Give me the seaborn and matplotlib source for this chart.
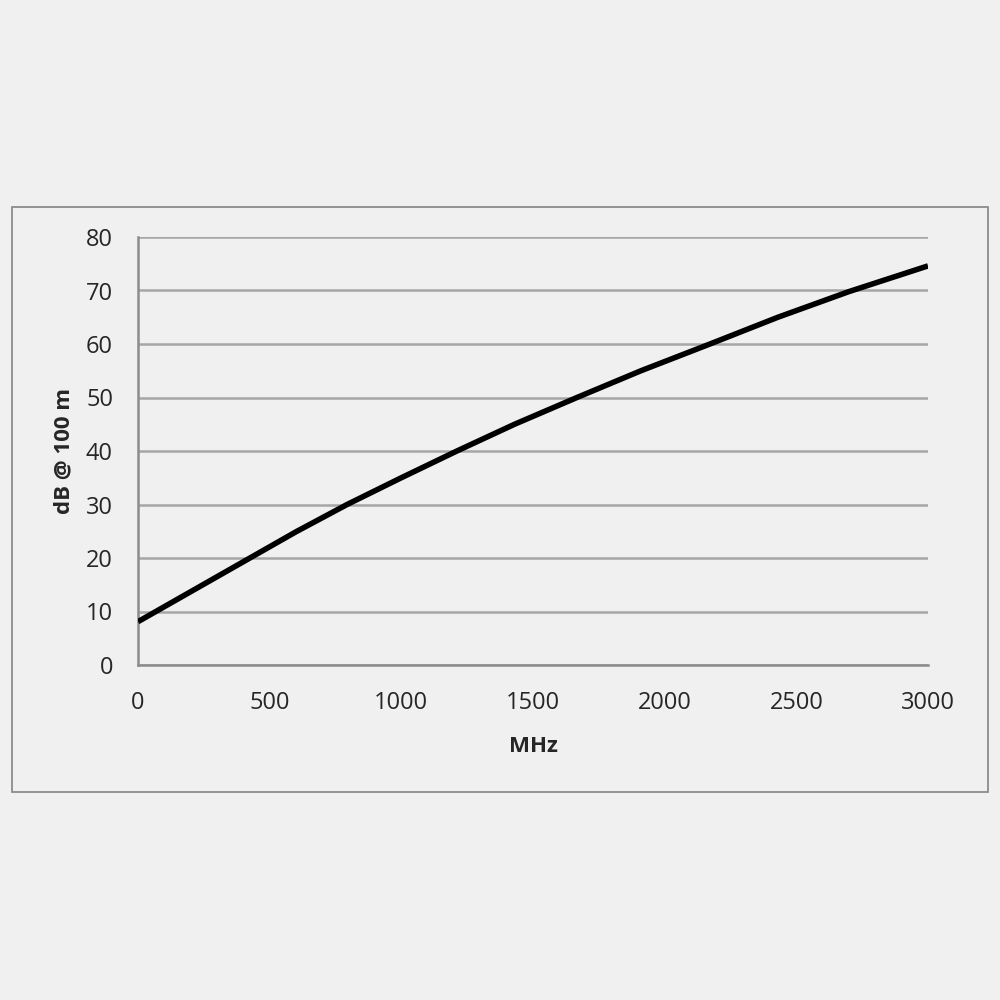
import matplotlib
matplotlib.use("Agg")
import matplotlib.pyplot as plt
import matplotlib.patches as patches
import pandas as pd
import seaborn as sns

# values
mhz = [0, 100, 250, 425, 600, 794, 1000, 1211, 1430, 1667, 1910, 2172, 2430, 2700, 3000]
db = [8.1, 10.9, 15.1, 20.0, 24.9, 30.0, 35.0, 40.0, 45.0, 50.0, 55.0, 60.0, 65.0, 69.8, 74.6]

x_ticks = [0, 500, 1000, 1500, 2000, 2500, 3000]
y_ticks = [0, 10, 20, 30, 40, 50, 60, 70, 80]

sns.set_style("white")
plt.rcParams['font.family'] = ['Open Sans', 'DejaVu Sans']

bg = "#f0f0f0"
txt = "#262626"
fig = plt.figure(figsize=(10, 10), dpi=100, facecolor=bg)

# outer chart frame
frame = patches.Rectangle((0.012, 0.208), 0.976, 0.585, transform=fig.transFigure,
                          facecolor="none", edgecolor="#8c8c8c", linewidth=1.3)
fig.patches.append(frame)

ax = fig.add_axes([0.138, 0.335, 0.79, 0.428])
ax.set_facecolor(bg)

df = pd.DataFrame({"MHz": mhz, "dB": db})
sns.lineplot(data=df, x="MHz", y="dB", ax=ax, color="black", linewidth=4, zorder=3,
             solid_joinstyle="round", solid_capstyle="butt")

ax.set_xlim(0, 3000)
ax.set_ylim(0, 80)
ax.set_xticks(x_ticks)
ax.set_yticks(y_ticks)
ax.yaxis.grid(True, color="#a6a6a6", linewidth=1.8)
ax.xaxis.grid(False)

for s in ["top", "right"]:
    ax.spines[s].set_visible(False)
for s in ["left", "bottom"]:
    ax.spines[s].set_color("#8c8c8c")
    ax.spines[s].set_linewidth(1.8)

ax.tick_params(axis="both", direction="out", length=8, width=1.8, color="#8c8c8c",
               labelsize=17, labelcolor=txt)
ax.tick_params(axis="y", pad=10)
ax.tick_params(axis="x", pad=11)

ax.set_xlabel("MHz", fontsize=16, fontweight="bold", color=txt)
ax.set_ylabel("dB @ 100 m", fontsize=16, fontweight="bold", color=txt)
ax.xaxis.set_label_coords(0.5, -0.165)
ax.yaxis.set_label_coords(-0.08, 0.5)

fig.savefig("out.png", dpi=100, facecolor=bg)
